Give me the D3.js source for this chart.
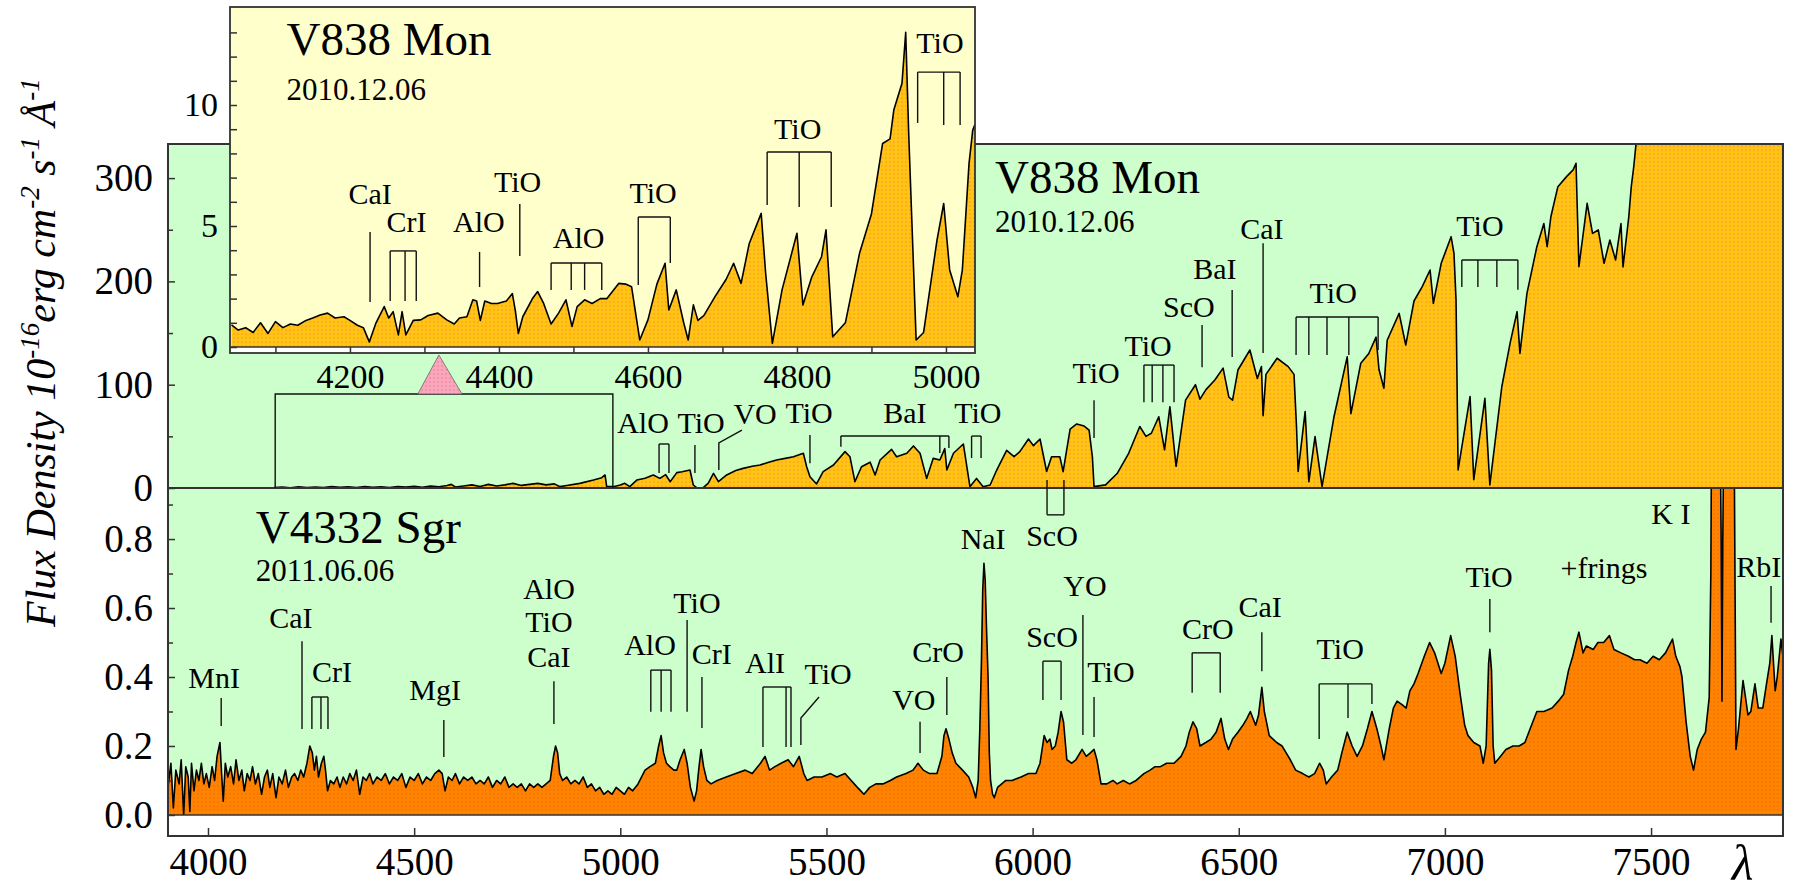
<!DOCTYPE html>
<html>
<head>
<meta charset="utf-8">
<script src="https://cdn.jsdelivr.net/npm/d3@7"></script>
<style>
  body { margin: 0; background: #fff; }
  svg text { font-family: "Liberation Serif", "Times New Roman", serif; fill: #000; }
</style>
</head>
<body>
<svg id="chart" width="1801" height="895"></svg>
<script>
// V838 Mon, 2010.12.06 : [wavelength A, flux 1e-16]
var monSpec = [[4160,0.5],[4180,1.0],[4200,0.3],[4220,1.2],[4240,0.5],[4260,1.0],[4280,0.4],[4300,1.3],[4320,0.6],[4340,1.1],[4360,0.5],[4380,1.4],[4400,0.7],[4420,1.2],[4440,0.4],[4460,1.5],[4480,0.9],[4500,1.6],[4520,0.8],[4540,1.8],[4560,1.2],[4580,2.5],[4590,3.5],[4600,1.0],[4620,2.0],[4640,3.0],[4660,1.5],[4680,3.5],[4700,2.0],[4720,3.0],[4740,4.5],[4760,2.5],[4780,3.5],[4800,4.5],[4820,3.0],[4840,4.0],[4854,1.3],[4870,2.5],[4902,4.5],[4935,7.7],[4955,10],[4963,12.6],[4967,1.3],[4983,1.3],[5000,2.9],[5011,4.5],[5023,1.3],[5040,7.7],[5060,9.5],[5080,12.6],[5096,9.3],[5110,13],[5121,6.1],[5137,14.9],[5150,15.8],[5169,17.4],[5177,2.9],[5185,0.3],[5201,0.3],[5213,4.5],[5226,14.2],[5238,6.1],[5258,12.6],[5280,17],[5298,19],[5320,21],[5339,22.3],[5360,25],[5379,27.1],[5400,28.7],[5420,30.3],[5444,33.6],[5452,20.6],[5460,10.9],[5476,3.9],[5492,15.8],[5517,22.3],[5545,35.2],[5557,30.3],[5569,6.1],[5585,20.6],[5606,25],[5618,12.6],[5630,27.1],[5658,37.4],[5670,30.3],[5695,33.6],[5711,40.7],[5727,33.6],[5743,9.3],[5759,28.7],[5775,27.1],[5787,38.1],[5792,17.4],[5808,33.6],[5832,42.6],[5848,1.3],[5864,9.3],[5880,1.3],[5897,2.9],[5913,17.4],[5937,36.5],[5955,30.3],[5969,35.2],[5990,47.4],[6002,41],[6018,47.4],[6034,16],[6046,30.3],[6066,30.3],[6074,15.8],[6091,57.1],[6107,62],[6125,60],[6137,56],[6145,30],[6149,1.3],[6177,3],[6205,14],[6233,33.6],[6260,59.5],[6275,50],[6288,53],[6306,69],[6320,37],[6333,78.7],[6348,21],[6371,85],[6395,100],[6406,86],[6420,95],[6442,104.5],[6462,116],[6476,88],[6485,85],[6498,114.2],[6527,133.6],[6545,106],[6555,117.5],[6559,70],[6566,110],[6593,125.6],[6620,117.5],[6634,110],[6640,60],[6644,16],[6661,74],[6670,6.2],[6685,49.7],[6702,1.3],[6731,69],[6763,127],[6772,72],[6796,120.8],[6815,130],[6833,146],[6840,115],[6852,96.6],[6860,143],[6889,169],[6905,138.4],[6925,181],[6945,195],[6964,211],[6972,178.7],[6991,217.5],[7015,243.3],[7022,227],[7027,182],[7032,17.5],[7061,88.5],[7070,8],[7097,86.8],[7109,3],[7138,98],[7158,140],[7175,170.7],[7182,130.3],[7199,188.4],[7223,233.6],[7240,256],[7248,233.6],[7257,262.6],[7274,291.7],[7295,301.4],[7311,308],[7318,314.3],[7325,214.3],[7345,275.6],[7358,246.5],[7372,249.8],[7386,217.5],[7400,240],[7414,220.8],[7427,256],[7432,214],[7446,262.6],[7452,291.7],[7458,311],[7464,335],[7470,360],[7820,360]];

// blue end of V838 Mon, enlarged in the inset
var monBlue = [[4041,0.91],[4050,0.7],[4060,0.8],[4070,0.6],[4080,1.0],[4090,0.56],[4100,1.05],[4110,0.8],[4120,0.95],[4130,0.9],[4141,1.1],[4150,1.2],[4160,1.32],[4170,1.4],[4180,1.2],[4192,1.25],[4200,1.1],[4210,0.9],[4218,0.8],[4226,0.21],[4235,1.0],[4246,1.67],[4252,1.2],[4258,1.46],[4265,0.5],[4270,1.46],[4275,0.5],[4285,1.1],[4295,1.12],[4305,1.3],[4318,1.4],[4330,1.12],[4340,0.95],[4347,1.2],[4357,1.25],[4365,1.95],[4370,1.9],[4375,1.1],[4381,1.9],[4390,1.8],[4398,1.8],[4410,1.9],[4418,2.21],[4422,1.5],[4426,0.56],[4432,1.25],[4445,2.0],[4452,2.29],[4460,1.8],[4470,0.95],[4480,1.4],[4490,1.95],[4498,0.85],[4505,1.67],[4515,1.95],[4525,1.8],[4536,2.0],[4545,2.0],[4561,2.63],[4570,2.6],[4578,2.49],[4589,0.29],[4600,1.12],[4612,2.6],[4623,3.46],[4628,1.53],[4638,2.36],[4648,1.0],[4654,0.29],[4661,1.74],[4667,1.1],[4675,1.3],[4690,2.08],[4705,2.8],[4715,3.46],[4725,2.63],[4736,4.28],[4752,5.52],[4758,3.05],[4767,0.15],[4780,2.36],[4800,4.70],[4808,1.74],[4820,2.9],[4833,3.73],[4839,4.84],[4848,0.42],[4865,1.0],[4884,3.87],[4900,5.5],[4915,8.41],[4925,8.6],[4930,9.79],[4941,10.9],[4946,13.0],[4950,8.83],[4960,0.29],[4970,0.6],[4988,4.42],[4997,5.93],[5005,3.18],[5016,2.08],[5022,3.18],[5031,7.59],[5036,8.97],[5039,9.2]];

// V4332 Sgr, 2011.06.06
var sgrSpec = [[3903,0.08],[3910,0.15],[3916,0.02],[3922,0.13],[3930,0.09],[3935,0.16],[3941,0.00],[3946,0.14],[3952,0.11],[3956,0.01],[3960,0.15],[3966,0.07],[3972,0.13],[3978,0.10],[3984,0.15],[3990,0.09],[3996,0.12],[4003,0.08],[4010,0.14],[4016,0.10],[4022,0.17],[4029,0.21],[4033,0.12],[4037,0.04],[4042,0.15],[4048,0.11],[4055,0.14],[4062,0.09],[4068,0.16],[4075,0.10],[4082,0.13],[4088,0.07],[4095,0.12],[4102,0.10],[4108,0.14],[4115,0.09],[4122,0.12],[4130,0.06],[4137,0.11],[4144,0.13],[4150,0.08],[4157,0.12],[4165,0.05],[4172,0.11],[4180,0.09],[4188,0.13],[4195,0.08],[4203,0.11],[4210,0.12],[4218,0.10],[4225,0.13],[4232,0.11],[4240,0.15],[4247,0.20],[4253,0.18],[4258,0.13],[4263,0.17],[4268,0.11],[4275,0.15],[4281,0.17],[4285,0.13],[4290,0.07],[4297,0.10],[4305,0.09],[4313,0.11],[4320,0.08],[4328,0.11],[4336,0.09],[4344,0.12],[4352,0.10],[4360,0.13],[4368,0.06],[4376,0.11],[4384,0.10],[4392,0.12],[4400,0.09],[4410,0.11],[4420,0.10],[4430,0.12],[4440,0.09],[4450,0.11],[4460,0.10],[4470,0.12],[4480,0.08],[4490,0.11],[4500,0.10],[4510,0.12],[4520,0.09],[4530,0.11],[4540,0.10],[4550,0.12],[4560,0.13],[4568,0.12],[4575,0.07],[4583,0.11],[4592,0.10],[4600,0.12],[4610,0.09],[4620,0.11],[4630,0.10],[4640,0.11],[4650,0.09],[4660,0.10],[4670,0.09],[4680,0.11],[4690,0.08],[4700,0.10],[4710,0.09],[4720,0.11],[4730,0.08],[4740,0.09],[4750,0.08],[4760,0.09],[4770,0.07],[4780,0.09],[4790,0.08],[4800,0.09],[4810,0.08],[4820,0.09],[4830,0.10],[4838,0.17],[4843,0.20],[4848,0.18],[4853,0.12],[4860,0.10],[4870,0.11],[4880,0.09],[4890,0.10],[4900,0.09],[4910,0.11],[4920,0.08],[4930,0.09],[4940,0.07],[4950,0.08],[4960,0.06],[4970,0.07],[4980,0.06],[4990,0.08],[5000,0.07],[5010,0.06],[5020,0.08],[5030,0.07],[5043,0.09],[5060,0.13],[5072,0.14],[5085,0.15],[5093,0.20],[5099,0.23],[5105,0.18],[5112,0.15],[5120,0.14],[5130,0.13],[5137,0.13],[5145,0.16],[5155,0.19],[5162,0.15],[5170,0.08],[5179,0.04],[5185,0.07],[5191,0.14],[5196,0.19],[5202,0.14],[5210,0.10],[5220,0.09],[5235,0.10],[5257,0.11],[5280,0.12],[5303,0.13],[5320,0.12],[5340,0.15],[5351,0.17],[5362,0.13],[5375,0.14],[5390,0.15],[5407,0.16],[5420,0.14],[5434,0.17],[5445,0.12],[5453,0.10],[5470,0.11],[5489,0.11],[5510,0.12],[5525,0.11],[5545,0.12],[5560,0.10],[5575,0.08],[5591,0.06],[5605,0.08],[5620,0.09],[5637,0.09],[5655,0.10],[5670,0.11],[5693,0.12],[5710,0.13],[5722,0.15],[5735,0.13],[5750,0.12],[5768,0.12],[5780,0.17],[5785,0.23],[5790,0.25],[5797,0.22],[5805,0.18],[5814,0.15],[5830,0.13],[5845,0.11],[5855,0.08],[5862,0.05],[5868,0.10],[5872,0.25],[5876,0.45],[5879,0.65],[5882,0.73],[5885,0.68],[5888,0.55],[5892,0.40],[5895,0.18],[5898,0.10],[5903,0.06],[5907,0.05],[5915,0.08],[5925,0.09],[5935,0.10],[5950,0.10],[5972,0.11],[5990,0.12],[6008,0.12],[6018,0.15],[6028,0.23],[6035,0.21],[6042,0.22],[6047,0.19],[6055,0.20],[6062,0.24],[6069,0.30],[6075,0.27],[6083,0.16],[6095,0.15],[6105,0.16],[6120,0.19],[6130,0.17],[6140,0.18],[6149,0.19],[6156,0.16],[6166,0.09],[6180,0.09],[6195,0.10],[6205,0.09],[6220,0.10],[6235,0.09],[6251,0.10],[6270,0.12],[6285,0.13],[6297,0.14],[6310,0.14],[6325,0.15],[6343,0.15],[6360,0.17],[6372,0.20],[6380,0.24],[6389,0.27],[6398,0.25],[6406,0.20],[6420,0.21],[6433,0.22],[6445,0.24],[6457,0.28],[6466,0.22],[6475,0.19],[6485,0.22],[6498,0.24],[6510,0.26],[6520,0.28],[6528,0.30],[6541,0.26],[6548,0.29],[6556,0.37],[6562,0.30],[6574,0.23],[6592,0.21],[6605,0.20],[6615,0.18],[6625,0.16],[6638,0.13],[6655,0.12],[6670,0.11],[6684,0.12],[6696,0.15],[6705,0.13],[6712,0.09],[6725,0.11],[6740,0.13],[6750,0.18],[6763,0.24],[6775,0.20],[6787,0.17],[6800,0.20],[6812,0.25],[6823,0.30],[6835,0.25],[6845,0.20],[6852,0.16],[6865,0.25],[6875,0.31],[6884,0.33],[6896,0.32],[6906,0.31],[6915,0.36],[6925,0.38],[6935,0.41],[6950,0.46],[6963,0.50],[6975,0.47],[6991,0.41],[7000,0.44],[7014,0.52],[7025,0.46],[7037,0.35],[7048,0.26],[7056,0.23],[7070,0.21],[7085,0.20],[7093,0.15],[7100,0.20],[7106,0.44],[7109,0.48],[7113,0.42],[7117,0.20],[7121,0.15],[7135,0.17],[7148,0.19],[7165,0.20],[7180,0.20],[7194,0.21],[7210,0.26],[7223,0.30],[7240,0.30],[7260,0.31],[7275,0.33],[7288,0.35],[7300,0.42],[7310,0.46],[7318,0.50],[7325,0.53],[7335,0.47],[7343,0.49],[7360,0.48],[7371,0.50],[7385,0.50],[7399,0.52],[7410,0.48],[7427,0.47],[7445,0.46],[7460,0.45],[7473,0.45],[7490,0.44],[7505,0.46],[7520,0.45],[7535,0.47],[7552,0.51],[7560,0.46],[7570,0.43],[7575,0.40],[7585,0.27],[7595,0.17],[7603,0.13],[7612,0.19],[7622,0.22],[7632,0.24],[7641,0.34],[7645,0.70],[7647,1.2],[7667,1.2],[7670,0.8],[7672,0.33],[7674,0.8],[7677,1.2],[7701,1.2],[7704,0.6],[7706,0.19],[7712,0.25],[7723,0.39],[7728,0.35],[7735,0.29],[7742,0.30],[7752,0.38],[7760,0.31],[7771,0.31],[7780,0.38],[7788,0.44],[7793,0.52],[7801,0.36],[7806,0.40],[7815,0.51],[7820,0.46]];

var xTicks = [4000, 4500, 5000, 5500, 6000, 6500, 7000, 7500];
var monTicks = [0, 100, 200, 300];
var sgrTicks = [0, 0.2, 0.4, 0.6, 0.8];
var insetXTicks = [4200, 4400, 4600, 4800, 5000];
var insetYTicks = [0, 5, 10];

// line identifications: text at (tx, ty), marker verticals at x from top to bot
var monMarks = [
  {t:"AlO", tx:5055, ty:53, x:[5094,5118], top:42.6, bot:[14.5,14.5]},
  {t:"TiO", tx:5196, ty:53, x:[5181], top:41.6, bot:[14.5]},
  {t:"VO", tx:5327, ty:62, path:[[5295,56],[5239,43.6],[5239,17.4]]},
  {t:"TiO", tx:5458, ty:62.6, x:[5460], top:51.3, bot:[23.9]},
  {t:"BaI", tx:5690, ty:62.6, x:[5535,5775,5797], top:50.3, bot:[40,33.8,38.7]},
  {t:"TiO", tx:5867, ty:62.6, x:[5852,5875], top:50.3, bot:[29,29]},
  {t:"TiO", tx:6154, ty:101.6, x:[6149], top:85, bot:[48.4]},
  {t:"TiO", tx:6280, ty:127.8, x:[6270,6290,6316,6343], top:119, bot:[83,83,83,83]},
  {t:"ScO", tx:6379, ty:165.5, x:[6411], top:157.8, bot:[117]},
  {t:"BaI", tx:6442, ty:202, x:[6484], top:191.7, bot:[126.8]},
  {t:"CaI", tx:6556, ty:241, x:[6559], top:237, bot:[130.7]},
  {t:"TiO", tx:6729, ty:179, x:[6639,6670,6714,6767,6838], top:165.5, bot:[128.8,128.8,128.8,128.8,133.6]},
  {t:"TiO", tx:7085, ty:244, x:[7041,7080,7126,7177], top:220.7, bot:[194.6,194.6,194.6,192]},
  {t:"ScO", tx:6047, ty:-56, x:[6035,6076], top:7.7, bot:[-26,-26], bar:-26}
];
var sgrMarks = [
  {t:"MnI", tx:4015, ty:0.368, x:[4032], top:0.339, bot:[0.258]},
  {t:"CaI", tx:4201, ty:0.542, x:[4228], top:0.504, bot:[0.249]},
  {t:"CrI", tx:4301, ty:0.386, x:[4252,4274,4291], top:0.342, bot:[0.249,0.249,0.249]},
  {t:"MgI", tx:4551, ty:0.333, x:[4572], top:0.275, bot:[0.168]},
  {t:"AlO", tx:4827, ty:0.626},
  {t:"TiO", tx:4827, ty:0.530},
  {t:"CaI", tx:4827, ty:0.429, x:[4839], top:0.388, bot:[0.264]},
  {t:"AlO", tx:5072, ty:0.464, x:[5074,5099,5123], top:0.42, bot:[0.299,0.299,0.299]},
  {t:"TiO", tx:5186, ty:0.586, x:[5162], top:0.565, bot:[0.299]},
  {t:"CrI", tx:5222, ty:0.438, x:[5198], top:0.4, bot:[0.252]},
  {t:"AlI", tx:5351, ty:0.412, x:[5346,5402,5414], top:0.371, bot:[0.197,0.197,0.197]},
  {t:"TiO", tx:5504, ty:0.38, path:[[5482,0.342],[5438,0.281],[5438,0.203]]},
  {t:"VO", tx:5712, ty:0.304, x:[5727], top:0.27, bot:[0.18]},
  {t:"CrO", tx:5771, ty:0.443, x:[5792], top:0.4, bot:[0.29]},
  {t:"NaI", tx:5880, ty:0.771},
  {t:"ScO", tx:6047, ty:0.487, x:[6025,6069], top:0.446, bot:[0.333,0.333]},
  {t:"YO", tx:6127, ty:0.635, x:[6122], top:0.58, bot:[0.232]},
  {t:"TiO", tx:6190, ty:0.386, x:[6149], top:0.342, bot:[0.226]},
  {t:"CrO", tx:6425, ty:0.51, x:[6387,6455], top:0.47, bot:[0.354,0.354]},
  {t:"CaI", tx:6552, ty:0.574, x:[6556], top:0.53, bot:[0.417]},
  {t:"TiO", tx:6746, ty:0.452, x:[6695,6765,6823], top:0.38, bot:[0.22,0.281,0.322]},
  {t:"TiO", tx:7107, ty:0.661, x:[7109], top:0.626, bot:[0.53]},
  {t:"+frings", tx:7386, ty:0.687},
  {t:"K I", tx:7548, ty:0.843},
  {t:"RbI", tx:7761, ty:0.69, x:[7791], top:0.664, bot:[0.557]}
];
var insetMarks = [
  {t:"CaI", tx:4227, ty:5.91, x:[4227], top:4.75, bot:[1.86]},
  {t:"CrI", tx:4276, ty:4.75, x:[4254,4274,4289], top:3.97, bot:[1.9,1.9,1.9]},
  {t:"AlO", tx:4373, ty:4.75, x:[4374], top:3.93, bot:[2.48]},
  {t:"TiO", tx:4425, ty:6.4, x:[4428], top:5.91, bot:[3.76]},
  {t:"AlO", tx:4507, ty:4.09, x:[4470,4497,4515,4538], top:3.47, bot:[2.36,2.36,2.36,2.36]},
  {t:"TiO", tx:4607, ty:5.95, x:[4587,4630], top:5.37, bot:[2.56,3.47]},
  {t:"TiO", tx:4801, ty:8.6, x:[4760,4803,4846], top:8.06, bot:[5.87,5.79,5.79]},
  {t:"TiO", tx:4992, ty:12.15, x:[4962,4997,5019], top:11.36, bot:[9.26,9.17,9.17]}
];

// star names and dates, placed in data units of each panel
var monTitle = {name:"V838 Mon", date:"2010.12.06", x:5909, y:285.6, yd:247.8};
var sgrTitle = {name:"V4332 Sgr", date:"2011.06.06", x:4116, y:0.788, yd:0.678};
var insetTitle = {name:"V838 Mon", date:"2010.12.06", x:4115, y:12.07, yd:10.2};

// range shown in the inset, and the pointer
var zoomWindow = [4163, 4982], zoomLevel = 91;
var pointer = [[4509, 91], [4560, 128.8], [4616, 91]];

var svg = d3.select("#chart");
var W = 1801, H = 895;

var x = d3.scaleLinear().domain([3903, 7820]).range([168, 1783]);
var yU = d3.scaleLinear().domain([0, 333]).range([488, 144]);
var yL = d3.scaleLinear().domain([-0.061, 0.948]).range([836, 488]);
var xi = d3.scaleLinear().domain([4039, 5039]).range([230, 975]);
var yi = d3.scaleLinear().domain([0, 14.05]).range([347, 7]);

var defs = svg.append("defs");
function dotted(id, base, dot) {
  var p = defs.append("pattern").attr("id", id)
      .attr("width", 4).attr("height", 4)
      .attr("patternUnits", "userSpaceOnUse");
  p.append("rect").attr("width", 4).attr("height", 4).attr("fill", base);
  p.append("rect").attr("x", 1).attr("y", 1).attr("width", 2).attr("height", 2).attr("fill", dot);
}
dotted("fillMon", "#ffc414", "#ffad1f");
dotted("fillSgr", "#ff8300", "#f67a00");
dotted("fillPink", "#f9a7ba", "#f591aa");

function clip(id, x0, y0, x1, y1) {
  defs.append("clipPath").attr("id", id).append("rect")
    .attr("x", x0).attr("y", y0).attr("width", x1 - x0).attr("height", y1 - y0);
}
clip("clipU", 168, 144, 1783, 488);
clip("clipL", 168, 488, 1783, 815);
clip("clipI", 230, 7, 975, 347);

svg.append("rect").attr("width", W).attr("height", H).attr("fill", "#fff");

// panel backgrounds
svg.append("rect").attr("x", x.range()[0]).attr("y", yU(333))
  .attr("width", x.range()[1] - x.range()[0]).attr("height", yU(0) - yU(333)).attr("fill", "#ccffcc");
svg.append("rect").attr("x", x.range()[0]).attr("y", yL(0.948))
  .attr("width", x.range()[1] - x.range()[0]).attr("height", yL(0) - yL(0.948)).attr("fill", "#ccffcc");

// spectra
function spectrum(data, sx, sy, fill, clipId) {
  var g = svg.append("g").attr("clip-path", "url(#" + clipId + ")");
  var area = d3.area().x(function(d){ return sx(d[0]); }).y0(sy(0)).y1(function(d){ return sy(d[1]); });
  var line = d3.line().x(function(d){ return sx(d[0]); }).y(function(d){ return sy(d[1]); });
  g.append("path").attr("d", area(data)).attr("fill", "url(#" + fill + ")");
  g.append("path").attr("d", line(data)).attr("fill", "none")
    .attr("stroke", "#000").attr("stroke-width", 1.6).attr("stroke-linejoin", "round");
}
spectrum(monSpec, x, yU, "fillMon", "clipU");
spectrum(sgrSpec, x, yL, "fillSgr", "clipL");

// frames
var frame = svg.append("g").attr("stroke", "#333").attr("fill", "none");
frame.append("rect").attr("x", 168).attr("y", yU(333)).attr("width", 1783 - 168).attr("height", yL(-0.061) - yU(333)).attr("stroke-width", 2);
frame.append("line").attr("x1", 168).attr("x2", 1783).attr("y1", yU(0)).attr("y2", yU(0)).attr("stroke-width", 2);
frame.append("line").attr("x1", 168).attr("x2", 1783).attr("y1", yL(0)).attr("y2", yL(0)).attr("stroke-width", 1.5);

function styleAxis(g, size) {
  g.attr("font-family", null).attr("font-size", size);
  g.select(".domain").remove();
  g.selectAll(".tick line").attr("stroke", "#333").attr("stroke-width", 1.5);
}

svg.append("g").attr("transform", "translate(0," + yL(-0.061) + ")")
  .call(d3.axisBottom(x).tickValues(xTicks).tickSizeInner(-8).tickSizeOuter(0).tickPadding(11).tickFormat(d3.format("d")))
  .call(styleAxis, 39);

svg.append("g").attr("transform", "translate(168,0)")
  .call(d3.axisLeft(yU).tickValues(monTicks).tickSizeInner(-7).tickSizeOuter(0).tickPadding(15))
  .call(styleAxis, 39);
svg.append("g").attr("transform", "translate(168,0)")
  .call(d3.axisLeft(yU).tickValues([50, 150, 250]).tickSizeInner(-5).tickSizeOuter(0).tickFormat(""))
  .call(styleAxis, 39);
svg.append("g").attr("transform", "translate(168,0)")
  .call(d3.axisLeft(yL).tickValues(sgrTicks).tickSizeInner(-7).tickSizeOuter(0).tickPadding(15).tickFormat(d3.format(".1f")))
  .call(styleAxis, 39);
svg.append("g").attr("transform", "translate(168,0)")
  .call(d3.axisLeft(yL).tickValues([0.1, 0.3, 0.5, 0.7, 0.9]).tickSizeInner(-5).tickSizeOuter(0).tickFormat(""))
  .call(styleAxis, 39);

// lambda and y title
svg.append("text").attr("x", x(7722)).attr("y", 880).attr("text-anchor", "middle")
  .attr("font-size", 50).attr("font-style", "italic").text("λ");

var yt = svg.append("text").attr("transform", "translate(55,627) rotate(-90)")
  .attr("font-size", 42).attr("font-style", "italic");
yt.append("tspan").text("Flux Density 10");
yt.append("tspan").attr("font-size", 27).attr("dy", -16).text("-16");
yt.append("tspan").attr("dy", 16).text("erg cm");
yt.append("tspan").attr("font-size", 27).attr("dy", -16).text("-2");
yt.append("tspan").attr("dy", 16).text(" s");
yt.append("tspan").attr("font-size", 27).attr("dy", -16).text("-1");
yt.append("tspan").attr("dy", 16).text(" Å");
yt.append("tspan").attr("font-size", 27).attr("dy", -16).text("-1");

// line identifications
function marks(list, sx, sy, size) {
  var g = svg.append("g");
  var line = d3.line().x(function(d){ return sx(d[0]); }).y(function(d){ return sy(d[1]); });
  list.forEach(function(m) {
    g.append("text").attr("x", sx(m.tx)).attr("y", sy(m.ty))
      .attr("text-anchor", "middle").attr("font-size", size).text(m.t);
    if (m.x) {
      m.x.forEach(function(v, i) {
        g.append("line").attr("x1", sx(v)).attr("x2", sx(v))
          .attr("y1", sy(m.top)).attr("y2", sy(m.bot[i]));
      });
      if (m.x.length > 1) {
        var lev = m.bar !== undefined ? m.bar : m.top;
        g.append("line").attr("x1", sx(d3.min(m.x))).attr("x2", sx(d3.max(m.x)))
          .attr("y1", sy(lev)).attr("y2", sy(lev));
      }
    }
    if (m.path) g.append("path").attr("d", line(m.path)).attr("fill", "none");
  });
  g.selectAll("line, path").attr("stroke", "#111").attr("stroke-width", 1.4);
}
marks(monMarks, x, yU, 30);
marks(sgrMarks, x, yL, 30);

function title(t, sx, sy) {
  svg.append("text").attr("x", sx(t.x)).attr("y", sy(t.y)).attr("font-size", 47).text(t.name);
  svg.append("text").attr("x", sx(t.x)).attr("y", sy(t.yd)).attr("font-size", 31).text(t.date);
}
title(monTitle, x, yU);
title(sgrTitle, x, yL);

// bracket of the enlarged range and pointer
svg.append("path")
  .attr("d", d3.line()([[x(zoomWindow[0]), yU(0)], [x(zoomWindow[0]), yU(zoomLevel)], [x(zoomWindow[1]), yU(zoomLevel)], [x(zoomWindow[1]), yU(0)]]))
  .attr("fill", "none").attr("stroke", "#111").attr("stroke-width", 1.4);
svg.append("path")
  .attr("d", d3.line().x(function(d){ return x(d[0]); }).y(function(d){ return yU(d[1]); })(pointer) + "Z")
  .attr("fill", "url(#fillPink)").attr("stroke", "#666").attr("stroke-width", 0.8);

// inset
svg.append("rect").attr("x", 230).attr("y", 7).attr("width", 975 - 230).attr("height", 340).attr("fill", "#ffffcc");
var ig = svg.append("g").attr("clip-path", "url(#clipI)");
ig.append("path")
  .attr("d", d3.area().x(function(d){ return xi(d[0]); }).y0(yi(0)).y1(function(d){ return yi(d[1]); })(monBlue))
  .attr("fill", "url(#fillMon)");
ig.append("path")
  .attr("d", d3.line().x(function(d){ return xi(d[0]); }).y(function(d){ return yi(d[1]); })(monBlue))
  .attr("fill", "none").attr("stroke", "#000").attr("stroke-width", 1.6).attr("stroke-linejoin", "round");
svg.append("rect").attr("x", 230).attr("y", 347).attr("width", 975 - 230).attr("height", 6).attr("fill", "#fff");

svg.append("g").attr("transform", "translate(0,353)")
  .call(d3.axisBottom(xi).tickValues(d3.range(4100, 5001, 100)).tickSizeInner(-6).tickSizeOuter(0).tickPadding(11)
    .tickFormat(function(d){ return insetXTicks.indexOf(d) >= 0 ? d : ""; }))
  .call(styleAxis, 34);
svg.append("g").attr("transform", "translate(230,0)")
  .call(d3.axisLeft(yi).tickValues(d3.range(0, 14)).tickSizeInner(-7).tickSizeOuter(0).tickPadding(12)
    .tickFormat(function(d){ return insetYTicks.indexOf(d) >= 0 ? d : ""; }))
  .call(styleAxis, 34);

svg.append("rect").attr("x", 230).attr("y", 7).attr("width", 975 - 230).attr("height", 346)
  .attr("fill", "none").attr("stroke", "#333").attr("stroke-width", 1.8);
svg.append("line").attr("x1", 230).attr("x2", 975).attr("y1", yi(0)).attr("y2", yi(0))
  .attr("stroke", "#333").attr("stroke-width", 1.5);

marks(insetMarks, xi, yi, 30);
title(insetTitle, xi, yi);
</script>
</body>
</html>
